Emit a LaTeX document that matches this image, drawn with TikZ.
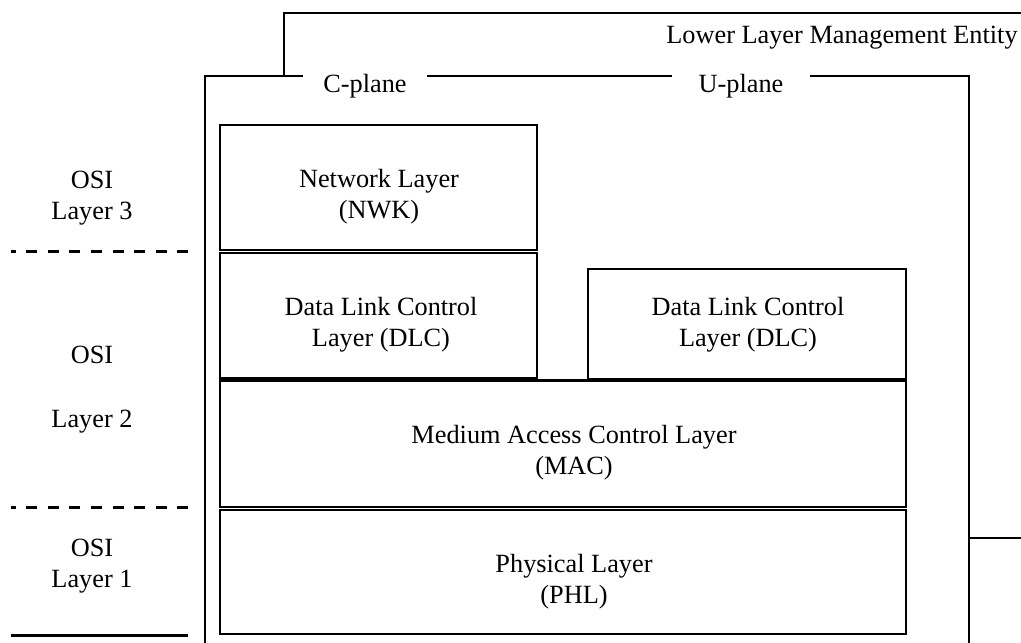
\documentclass[tikz,border=0pt]{standalone}
\usepackage{fontspec}
\setmainfont{Liberation Serif}

\begin{document}
\begin{tikzpicture}[x=1bp,y=-1bp,
  layerbox/.style={rectangle,draw,line width=2.2bp,inner sep=0pt},
  txt/.style={align=center,inner sep=0pt,font=\fontsize{26.3bp}{31bp}\selectfont},
  planetxt/.style={txt,fill=white},
  frame/.style={line width=2.5bp},
  osiline/.style={line width=3bp}]
\useasboundingbox (0,0) rectangle (1021,643);
\path[draw,frame](284,76) -- (284,13) -- (1022,13);
\path[draw,frame](969,538) -- (1022,538);
\path[draw,frame](205,644) -- (205,76) -- (969,76) -- (969,644);
\node[txt] (llme) at (842,38) {Lower Layer Management Entity};
\node[planetxt,inner xsep=20bp] (cplane) at (365,86) {C-plane};
\node[planetxt,inner xsep=27bp] (uplane) at (741,86) {U-plane};
\node[layerbox,minimum width=317bp,minimum height=125bp] (nwk) at (378.5,187.5) {};
\node[layerbox,minimum width=317bp,minimum height=125bp] (dlcc) at (378.5,315.5) {};
\node[layerbox,minimum width=318bp,minimum height=110bp] (dlcu) at (747,324) {};
\node[layerbox,minimum width=686bp,minimum height=126.5bp] (mac) at (563,443.75) {};
\node[layerbox,minimum width=686bp,minimum height=124bp] (phl) at (563,572) {};
\node[txt] (nwktxt) at (379,197) {Network Layer\\(NWK)};
\node[txt] (dlcctxt) at (381,325) {Data Link Control\\Layer (DLC)};
\node[txt] (dlcutxt) at (748,325) {Data Link Control\\Layer (DLC)};
\node[txt] (mactxt) at (574,453) {Medium Access Control Layer\\(MAC)};
\node[txt] (phltxt) at (574,582) {Physical Layer\\(PHL)};
\node[txt] (osi3) at (92,198) {OSI\\Layer 3};
\node[txt] (osi2) at (92,390) {OSI\\[33bp]Layer 2};
\node[txt] (osi1) at (92,566) {OSI\\Layer 1};
\path[draw,osiline,dash pattern=on 11bp off 10.5bp](188,252) -- (11,252);
\path[draw,osiline,dash pattern=on 11bp off 10.5bp](188,507) -- (11,507);
\path[draw,osiline](11,635) -- (188,635);
\end{tikzpicture}
\end{document}
